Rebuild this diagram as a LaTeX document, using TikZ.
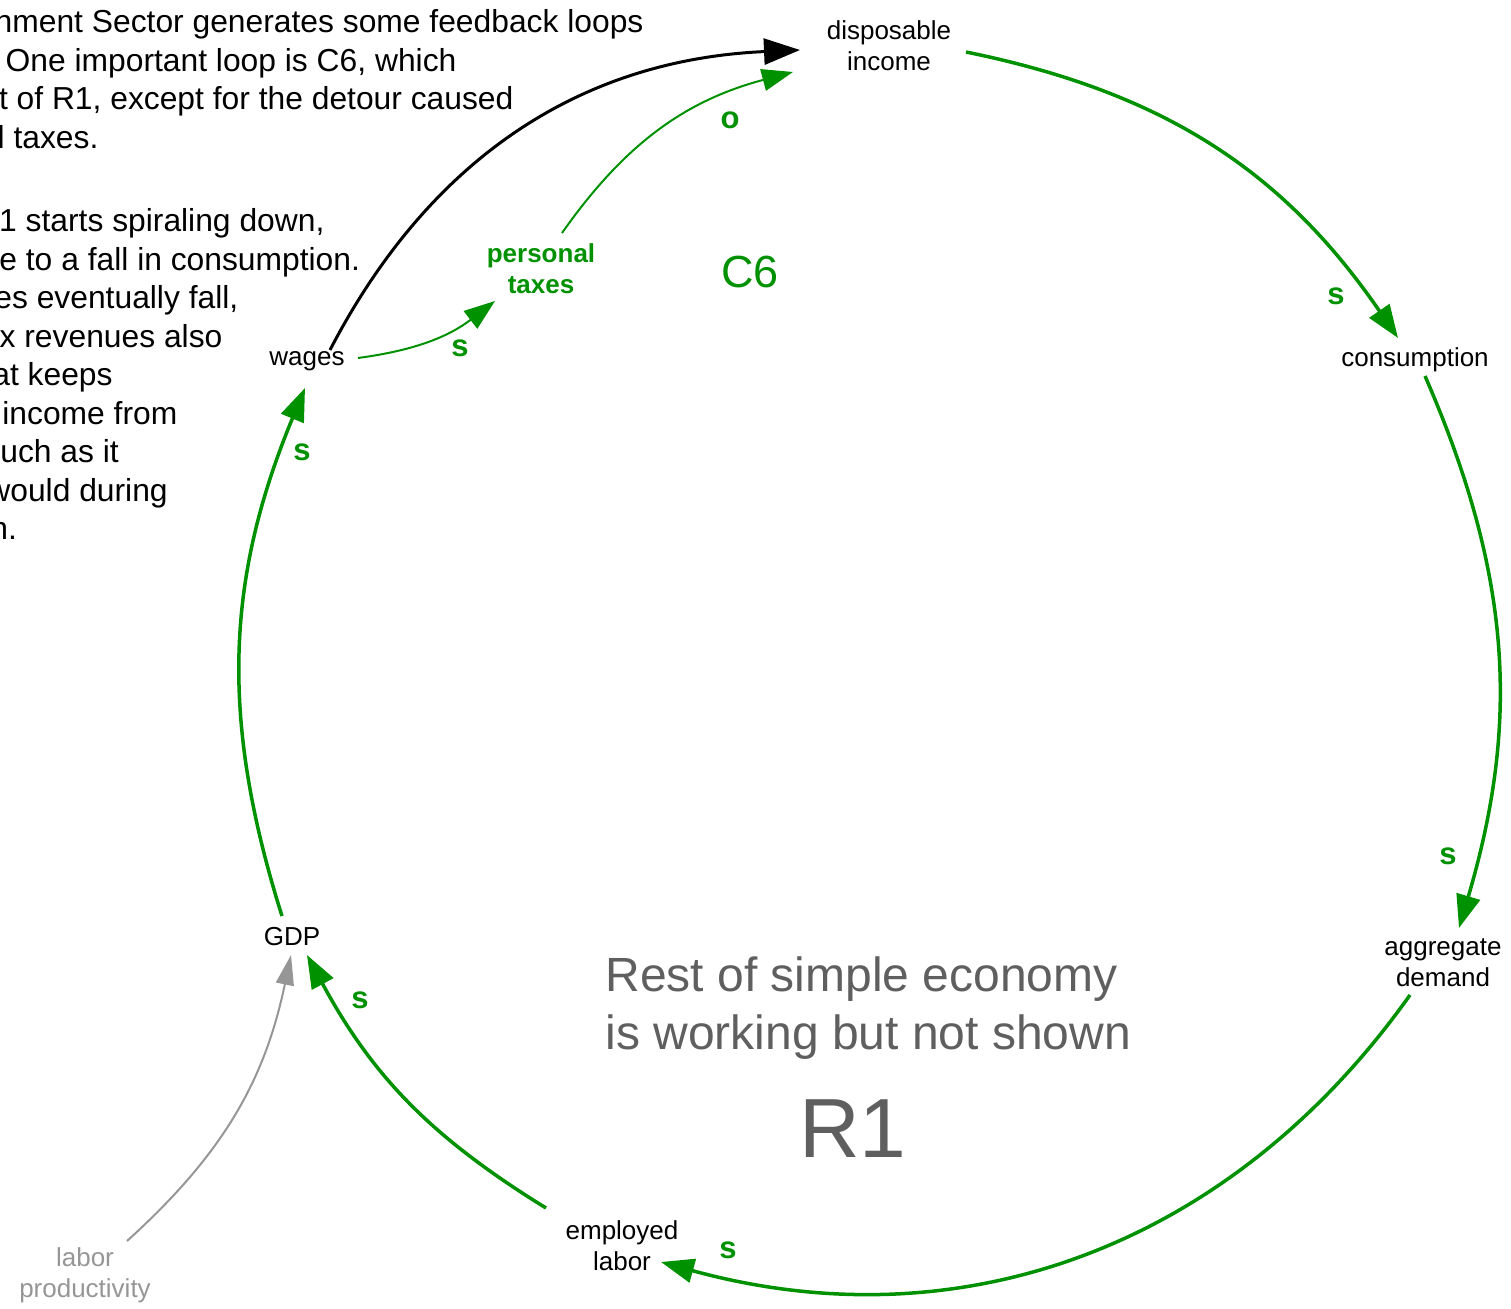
\documentclass[tikz,border=0pt]{standalone}
\usepackage{fontspec}
\setmainfont{Liberation Sans}
\usetikzlibrary{arrows.meta}
\definecolor{lg}{RGB}{0,145,0}
\definecolor{lpgray}{RGB}{150,150,150}
\definecolor{restgray}{RGB}{95,95,95}
\begin{document}
\begin{tikzpicture}[x=0.5pt,y=0.5pt,
  var/.style={font=\fontsize{13}{15.5}\selectfont, align=center, inner sep=0pt},
  pol/.style={font=\fontsize{15.5}{18}\selectfont\bfseries, text=lg, inner sep=0pt},
  mainarr/.style={draw=lg, line width=1.75pt, -{Triangle[length=16.5pt,width=12pt]}},
  thinarr/.style={draw=lg, line width=1pt, -{Triangle[length=15.5pt,width=11pt]}},
  blackarr/.style={draw=black, line width=1.5pt, -{Triangle[length=18pt,width=13pt]}},
  grayarr/.style={draw=lpgray, line width=1pt, -{Triangle[length=15pt,width=9pt]}},
  txt/.style={font=\fontsize{15.9}{19}\selectfont, anchor=base west, inner sep=0pt}]
\useasboundingbox (0,0) rectangle (1511,-1309);
\clip (0,0) rectangle (1511,-1309);

% explanatory text (cut at the left edge)
\node[txt] (t1) at (-5.7,-33) {nment Sector generates some feedback loops};
\node[txt] (t2) at (5.3,-71.4) {One important loop is C6, which};
\node[txt] (t3) at (-1.4,-109.8) {t of R1, except for the detour caused};
\node[txt] (t4) at (-2.7,-148.2) {l taxes.};
\node[txt] (t5) at (-1.2,-232) {1 starts spiraling down,};
\node[txt] (t6) at (-1,-270.5) {e to a fall in consumption.};
\node[txt] (t7) at (-6,-309) {es eventually fall,};
\node[txt] (t8) at (-0.7,-347.5) {x revenues also};
\node[txt] (t9) at (-8,-386) {at keeps};
\node[txt] (t10) at (2,-424.5) {income from};
\node[txt] (t11) at (0,-463) {uch as it};
\node[txt] (t12) at (-13,-501.5) {would during};
\node[txt] (t13) at (-10,-540) {n.};

% variables
\node[var] (di) at (889,-46) {disposable\\income};
\node[var] (cons) at (1415,-360) {consumption};
\node[var] (ad) at (1443,-963) {aggregate\\demand};
\node[var] (el) at (622,-1246) {employed\\labor};
\node[var] (gdp) at (292,-937) {GDP};
\node[var] (wages) at (307,-361) {wages};
\node[var, font=\fontsize{13}{15.5}\selectfont\bfseries, text=lg] (pt) at (541,-269) {personal\\taxes};
\node[var, text=lpgray] (lp) at (85,-1275) {labor\\productivity};

% loop labels
\node[font=\fontsize{22.5}{27}\selectfont, text=lg, inner sep=0pt] (c6) at (750,-272) {C6};
\node[font=\fontsize{24}{29}\selectfont, text=restgray, align=left, anchor=west, inner sep=0pt] (rest) at (605,-1008) {Rest of simple economy\\is working but not shown};
\node[font=\fontsize{42}{48}\selectfont, text=restgray, inner sep=0pt] (r1) at (853,-1129) {R1};

% connectors
\draw[mainarr] ([shift={(77,-6)}]di.center) to[bend left=22] ([shift={(-17,22)}]cons.center);
\draw[mainarr] ([shift={(10,-16)}]cons.center) to[bend left=20] ([shift={(16,35)}]ad.center);
\draw[mainarr] ([shift={(-33,-32)}]ad.center) to[bend left=35] ([shift={(39,-16)}]el.center);
\draw[mainarr] ([shift={(-76,38)}]el.center) to[bend left=15] ([shift={(15,-18)}]gdp.center);
\draw[mainarr] ([shift={(-10,21)}]gdp.center) to[bend left=20] ([shift={(-2,-27)}]wages.center);
\draw[blackarr] ([shift={(23,11)}]wages.center) to[bend left=30] ([shift={(-89,-4)}]di.center);
\draw[thinarr] ([shift={(51,3)}]wages.center) to[bend right=15] ([shift={(-46,-32)}]pt.center);
\draw[thinarr] ([shift={(21,36)}]pt.center) to[bend left=20] ([shift={(-96,-26)}]di.center);
\draw[grayarr] ([shift={(42,34)}]lp.center) to[bend right=18] ([shift={(-1,-18)}]gdp.center);

% polarities
\node[pol] (p1) at (1336,-296) {s};
\node[pol] (p2) at (1448,-856) {s};
\node[pol] (p3) at (728,-1250) {s};
\node[pol] (p4) at (360,-1000) {s};
\node[pol] (p5) at (302,-452) {s};
\node[pol] (p7) at (460,-348) {s};
\node[pol] (p8) at (730,-120) {o};
\end{tikzpicture}
\end{document}
